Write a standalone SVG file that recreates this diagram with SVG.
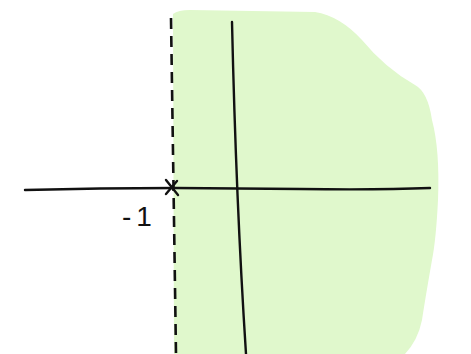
<svg xmlns="http://www.w3.org/2000/svg" width="471" height="354" viewBox="0 0 471 354">
<style>
.ink{fill:none;stroke:#111;stroke-width:2.4;stroke-linecap:round}
.dash{fill:none;stroke:#111;stroke-width:2.6;stroke-dasharray:11 7}
.lbl{font-family:"Liberation Sans",Arial,sans-serif;font-size:28px;fill:#111;letter-spacing:5px}
</style>
<rect width="471" height="354" fill="#fff"/>
<g id="region">
<path d="M173 14 Q178 10 190 10 L315 12 Q340 16 362 40 Q385 68 415 85 Q428 92 432 120 Q440 150 438 200 Q436 240 432 260 Q425 300 422 320 Q418 340 405 354 L174 354 Z" fill="#e0f8cc"/>
</g>
<g id="connectors">
<path class="dash" d="M171 18 L176 354"/>
<path class="ink" d="M25 190 Q100 188 175 188 L300 189 Q380 190 430 188"/>
<path class="ink" d="M232 22 Q236 200 246 354"/>
</g>
<g id="point">
<path class="ink" d="M166 180 L178 195 M177 181 L166 194"/>
<text class="lbl" x="122" y="226">-1</text>
</g>
</svg>
